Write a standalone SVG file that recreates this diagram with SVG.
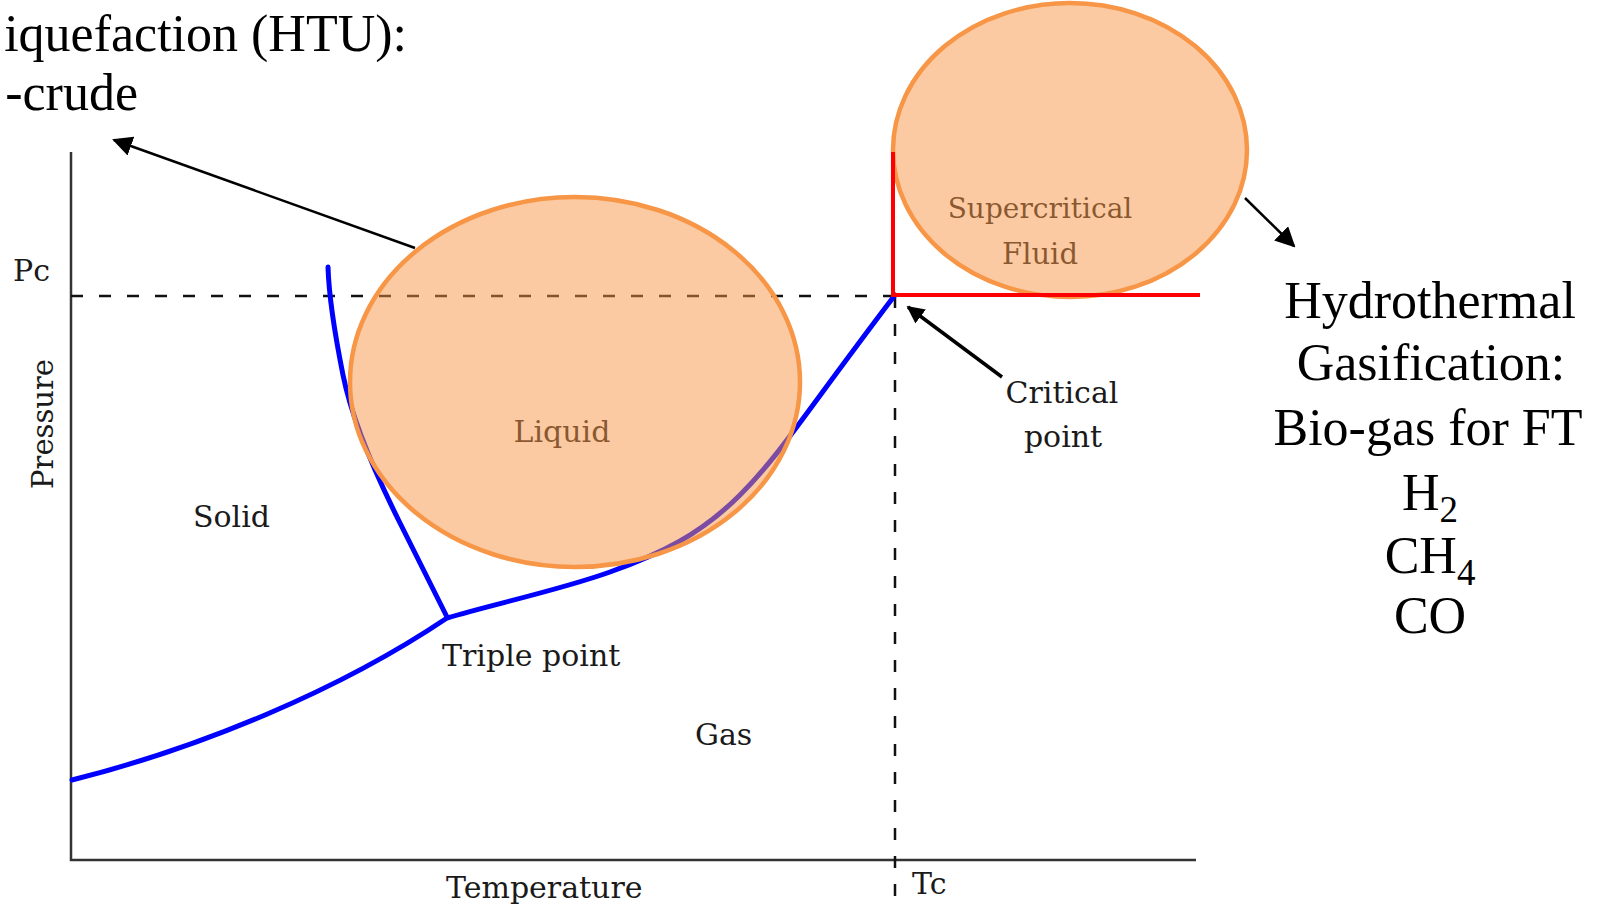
<svg xmlns="http://www.w3.org/2000/svg" width="1602" height="907" viewBox="0 0 1602 907">
<style>
.lbl{font-family:"DejaVu Serif",serif;font-size:30px;fill:#1a1a1a}
.big{font-family:"Liberation Serif","Times New Roman",serif;font-size:52px;fill:#000}
.axis{stroke:#333;stroke-width:2.5;fill:none}
.dash{stroke:#111;stroke-width:2.5;stroke-dasharray:12 16;fill:none}
.blue{stroke:#0000ff;stroke-width:5;fill:none;stroke-linejoin:round;stroke-linecap:round}
.red{stroke:#ff0000;stroke-width:4;fill:none}
.ell{fill:#f79646;fill-opacity:0.5;stroke:#f79646;stroke-width:4.5}
.arr{stroke:#000;stroke-width:2.5;fill:none}
</style>
<defs>
<marker id="ah" viewBox="0 0 10 10" refX="9" refY="5" markerWidth="8" markerHeight="8" orient="auto" markerUnits="strokeWidth">
<path d="M0,0 L10,5 L0,10 z" fill="#000"/>
</marker>
<marker id="ahs" viewBox="0 0 10 10" refX="9" refY="5" markerWidth="5" markerHeight="5" orient="auto" markerUnits="strokeWidth">
<path d="M0,0 L10,5 L0,10 z" fill="#000"/>
</marker>
</defs>
<g id="chart">
<path class="axis" d="M71,152 L71,860 L1196,860"/>
<path class="dash" d="M71,296 L895,296"/>
<path class="dash" d="M895,296 L895,907"/>
<path class="blue" d="M72,780 C200,748 340,690 447,618 C490,605 560,590 610,572 S700,535 740,495 S800,420 895,295"/>
<path class="blue" d="M447,617 L400,523 C375,473 352,420 343,375 C335,335 329,300 328,267"/>
</g>
<g id="axis-labels">
<text class="lbl" x="13" y="281">Pc</text>
<text class="lbl" transform="translate(53,424) rotate(-90)" text-anchor="middle" style="font-size:29px">Pressure</text>
<text class="lbl" x="446" y="898">Temperature</text>
<text class="lbl" x="912" y="894">Tc</text>
</g>
<g id="solid"><text class="lbl" x="193" y="527">Solid</text></g>
<g id="gas"><text class="lbl" x="695" y="745">Gas</text></g>
<g id="triple"><text class="lbl" x="442" y="666">Triple point</text></g>
<g id="liquid">
<text class="lbl" x="562" y="442" text-anchor="middle">Liquid</text>
<ellipse class="ell" cx="575" cy="382" rx="225" ry="185"/>
</g>
<g id="supercritical">
<text class="lbl" x="1040" y="218" text-anchor="middle" style="font-size:28px">Supercritical</text>
<text class="lbl" x="1040" y="264" text-anchor="middle" style="font-size:29px">Fluid</text>
<ellipse class="ell" cx="1070" cy="150" rx="177" ry="147"/>
</g>
<g id="red-boundary">
<path class="red" d="M893,152 L893,295 L1200,295"/>
</g>
<g id="critical">
<text class="lbl" x="1062" y="403" text-anchor="middle">Critical</text>
<text class="lbl" x="1063" y="447" text-anchor="middle">point</text>
</g>
<g id="htu">
<text class="big" x="407" y="51" text-anchor="end">iquefaction (HTU):</text>
<text class="big" x="138" y="110" text-anchor="end">-crude</text>
</g>
<g id="htg">
<text class="big" x="1430" y="318" text-anchor="middle">Hydrothermal</text>
<text class="big" x="1431" y="380" text-anchor="middle">Gasification:</text>
<text class="big" x="1428" y="445" text-anchor="middle">Bio-gas for FT</text>
<text class="big" x="1430" y="510" text-anchor="middle">H<tspan dy="12" style="font-size:37px">2</tspan></text>
<text class="big" x="1430" y="573" text-anchor="middle">CH<tspan dy="12" style="font-size:37px">4</tspan></text>
<text class="big" x="1430" y="633" text-anchor="middle">CO</text>
</g>
<g id="connectors">
<line class="arr" x1="415" y1="248" x2="114" y2="140" marker-end="url(#ah)"/>
<line class="arr" x1="1245" y1="198" x2="1294" y2="246" marker-end="url(#ah)"/>
<line class="arr" x1="1002" y1="377" x2="908" y2="307" style="stroke-width:3.5" marker-end="url(#ahs)"/>
</g>
</svg>
